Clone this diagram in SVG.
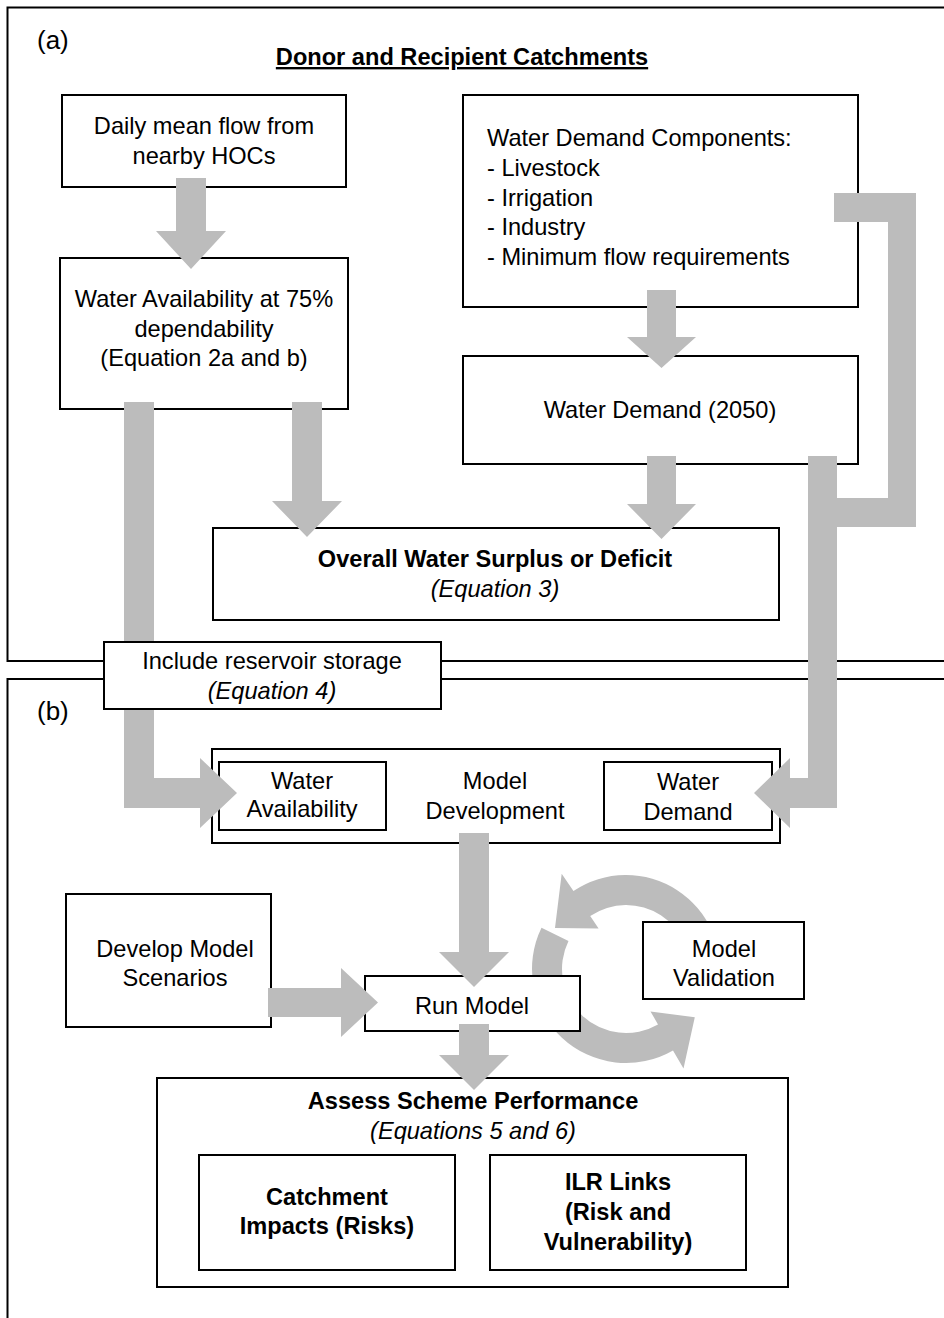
<svg xmlns="http://www.w3.org/2000/svg" width="944" height="1318" viewBox="0 0 944 1318">
<style>
.box{fill:#fff;stroke:#000;stroke-width:2}
.frame{fill:none;stroke:#000;stroke-width:2}
.arr{fill:#bcbcbc}
text{font-family:"Liberation Sans",Arial,Helvetica,sans-serif;font-size:23.6px;fill:#000}
.c{text-anchor:middle}
.b{font-weight:bold}
.i{font-style:italic}
.lab{font-size:26px}
</style>
<rect width="944" height="1318" fill="#fff"/>
<g id="panel-a">
<path class="frame" d="M946 7.5H7.5V661H946"/>
<text class="lab" x="37" y="49">(a)</text>
<text class="c b" x="462" y="65" text-decoration="underline">Donor and Recipient Catchments</text>
</g>
<g id="panel-b">
<path class="frame" d="M946 679H7.5V1320"/>
<text class="lab" x="37" y="720">(b)</text>
</g>
<g id="cycle">
<path class="arr" d="M718.57 985.32A94 94 0 0 0 573.44 891.07L561.69 873.66L554.99 928L598.6 928.38L590.21 915.94A64 64 0 0 1 689.03 980.11Z"/>
<path class="arr" d="M541.51 927.79A94 94 0 0 0 673 1050.4L683.5 1068.6L694.8 1017.2L650.5 1011.4L658 1024.4A64 64 0 0 1 568.48 940.94Z"/>
</g>
<g id="n-daily">
<rect class="box" x="62" y="95" width="284" height="92"/>
<text class="c" x="204" y="133.5">Daily mean flow from</text>
<text class="c" x="204" y="163.5">nearby HOCs</text>
</g>
<g id="n-availability">
<rect class="box" x="60" y="258" width="288" height="151"/>
<text class="c" x="204" y="306.5">Water Availability at 75%</text>
<text class="c" x="204" y="336.5">dependability</text>
<text class="c" x="204" y="365.5">(Equation 2a and b)</text>
</g>
<g id="n-components">
<rect class="box" x="463" y="95" width="395" height="212"/>
<text x="487" y="145.5">Water Demand Components:</text>
<text x="487" y="175.5">- Livestock</text>
<text x="487" y="205.5">- Irrigation</text>
<text x="487" y="234.5">- Industry</text>
<text x="487" y="264.5">- Minimum flow requirements</text>
</g>
<g id="n-demand">
<rect class="box" x="463" y="356" width="395" height="108"/>
<text class="c" x="660" y="417.5">Water Demand (2050)</text>
</g>
<g id="n-overall">
<rect class="box" x="213" y="528" width="566" height="92"/>
<text class="c b" x="495" y="566.5">Overall Water Surplus or Deficit</text>
<text class="c i" x="495" y="596.5">(Equation 3)</text>
</g>
<g id="n-modeldev">
<rect class="box" x="212" y="749" width="568" height="94"/>
<rect class="box" x="219" y="762" width="167" height="68"/>
<rect class="box" x="604" y="762" width="168" height="68"/>
<text class="c" x="302" y="788.5">Water</text>
<text class="c" x="302" y="817">Availability</text>
<text class="c" x="495" y="788.5">Model</text>
<text class="c" x="495" y="818.5">Development</text>
<text class="c" x="688" y="789.5">Water</text>
<text class="c" x="688" y="819.5">Demand</text>
</g>
<g id="n-scenarios">
<rect class="box" x="66" y="894" width="205" height="133"/>
<text class="c" x="175" y="956.5">Develop Model</text>
<text class="c" x="175" y="985.5">Scenarios</text>
</g>
<g id="n-run">
<rect class="box" x="365" y="976" width="215" height="55"/>
<text class="c" x="472" y="1013.5">Run Model</text>
</g>
<g id="n-validation">
<rect class="box" x="643" y="922" width="161" height="77"/>
<text class="c" x="724" y="956.5">Model</text>
<text class="c" x="724" y="985.5">Validation</text>
</g>
<g id="n-assess">
<rect class="box" x="157" y="1078" width="631" height="209"/>
<text class="c b" x="473" y="1108.5">Assess Scheme Performance</text>
<text class="c i" x="473" y="1138.5">(Equations 5 and 6)</text>
<rect class="box" x="199" y="1155" width="256" height="115"/>
<text class="c b" x="327" y="1204.5">Catchment</text>
<text class="c b" x="327" y="1233.5">Impacts (Risks)</text>
<rect class="box" x="490" y="1155" width="256" height="115"/>
<text class="c b" x="618" y="1189.5">ILR Links</text>
<text class="c b" x="618" y="1219.5">(Risk and</text>
<text class="c b" x="618" y="1249.5">Vulnerability)</text>
</g>
<g id="connectors">
<polygon class="arr" points="176,178 206,178 206,231 226,231 191,269 156,231 176,231"/>
<polygon class="arr" points="292,402 322,402 322,501 342,501 307,537 272,501 292,501"/>
<polygon class="arr" points="647,290 676,290 676,337 696,337 661.5,368 627,337 647,337"/>
<polygon class="arr" points="647,456 676,456 676,504 696,504 661.5,539 627,504 647,504"/>
<path class="arr" d="M834 193H916V527H837V498H888V222H834Z"/>
<path class="arr" d="M808 456H837V808H790V828L754 793L790 758V778H808Z"/>
<path class="arr" d="M124 402H154V778H200V758L237 793L200 828V808H124Z"/>
<polygon class="arr" points="459,833 489,833 489,952 509,952 474,987 439,952 459,952"/>
<polygon class="arr" points="268,988 341,988 341,968 378,1002.5 341,1037 341,1017 268,1017"/>
<polygon class="arr" points="459,1024 489,1024 489,1055 509,1055 474,1090 439,1055 459,1055"/>
</g>
<g id="n-reservoir">
<rect class="box" x="104" y="642" width="337" height="67"/>
<text class="c" x="272" y="668.5">Include reservoir storage</text>
<text class="c i" x="272" y="698.5">(Equation 4)</text>
</g>
</svg>
